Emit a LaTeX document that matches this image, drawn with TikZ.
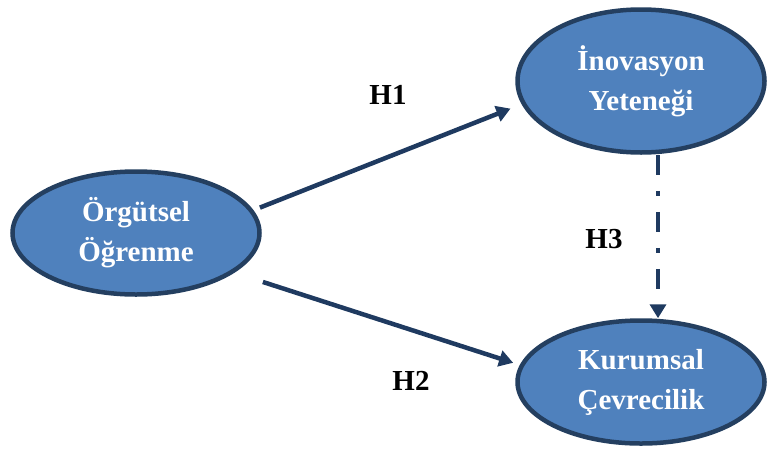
\documentclass[tikz,border=0pt]{standalone}
\usepackage{fontspec}
\setmainfont{Liberation Serif}
\usetikzlibrary{shapes.geometric,arrows.meta}
\definecolor{ellfill}{HTML}{4F81BD}
\definecolor{ellline}{HTML}{243F60}
\definecolor{arrcol}{HTML}{1F3A60}
\begin{document}
\begin{tikzpicture}[x=1pt,y=-1pt,
  concept/.style={ellipse, draw=ellline, fill=ellfill, line width=4.5pt,
    minimum width=247pt, inner sep=0pt, text=white,
    font=\fontsize{29}{40}\selectfont\bfseries, align=center},
  hyp/.style={font=\fontsize{29}{34}\selectfont\bfseries, text=black, inner sep=0pt},
  link/.style={draw=arrcol, line width=4.5pt, -{Triangle[length=14pt,width=16pt]}}]
\useasboundingbox (0,0) rectangle (770,450);
\node[concept, minimum height=123pt] (L) at (136,233) {Örgütsel\\Öğrenme};
\node[concept, minimum height=143pt] (T) at (641,81) {İnovasyon\\Yeteneği};
\node[concept, minimum height=123pt] (B) at (641,382) {Kurumsal\\Çevrecilik};
\draw[link, shorten <=7pt, shorten >=12pt] (L.11.3) -- (T.191.1);
\draw[link, shorten <=30pt, shorten >=7pt] (L.-22.8) -- (B.172);
\draw[link, dash pattern=on 20pt off 16pt on 5pt off 16pt] ([xshift=17pt]T.south) -- ([xshift=17pt]B.north);
\node[hyp] (h1) at (388,95) {H1};
\node[hyp] (h2) at (411,381) {H2};
\node[hyp] (h3) at (604,239) {H3};
\end{tikzpicture}
\end{document}
